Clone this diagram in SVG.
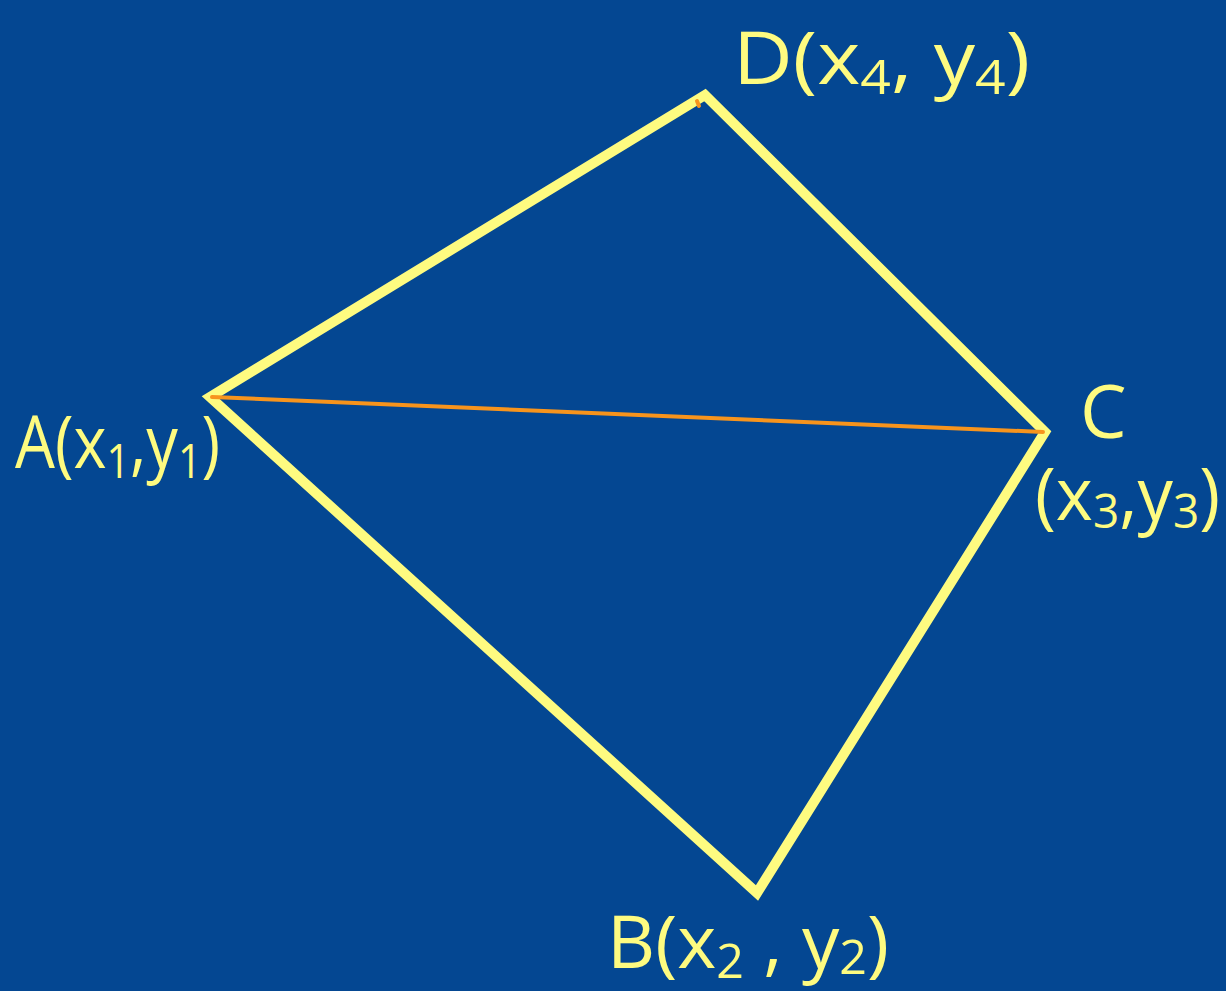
<svg xmlns="http://www.w3.org/2000/svg" width="1226" height="991" viewBox="0 0 1226 991">
<style>
.bg{fill:#044792}
.edge{stroke:#FEFB80;stroke-width:10;fill:none;stroke-linecap:round;stroke-linejoin:miter}
.diag{stroke:#F7941D;stroke-width:4;fill:none;stroke-linecap:round}
.lbl{fill:#FEFB80;font-family:"Open Sans","Liberation Sans",sans-serif;font-size:74px}
.sub{font-size:48px}
</style>
<rect class="bg" x="0" y="0" width="1226" height="991"/>
<g id="connectors">
<polygon class="edge" points="210,397 705,95 1045,432 757,893"/>
<line class="diag" x1="212" y1="397" x2="1043" y2="432"/>
<line class="diag" x1="697" y1="101" x2="699" y2="106"/>
</g>
<g id="node-D">
<text class="lbl" x="733" y="84" textLength="297" lengthAdjust="spacingAndGlyphs">D(x<tspan class="sub" dy="10">4</tspan><tspan dy="-10">, y</tspan><tspan class="sub" dy="10">4</tspan><tspan dy="-10">)</tspan></text>
</g>
<g id="node-A">
<text class="lbl" x="15" y="468" textLength="205" lengthAdjust="spacingAndGlyphs">A(x<tspan class="sub" dy="10">1</tspan><tspan dy="-10">,y</tspan><tspan class="sub" dy="10">1</tspan><tspan dy="-10">)</tspan></text>
</g>
<g id="node-C">
<text class="lbl" x="1080" y="438">C</text>
<text class="lbl" x="1035" y="520" textLength="185" lengthAdjust="spacingAndGlyphs">(x<tspan class="sub" dy="8">3</tspan><tspan dy="-8">,y</tspan><tspan class="sub" dy="8">3</tspan><tspan dy="-8">)</tspan></text>
</g>
<g id="node-B">
<text class="lbl" x="607" y="968" textLength="282" lengthAdjust="spacingAndGlyphs">B(x<tspan class="sub" dy="10">2</tspan><tspan dy="-10"> , y</tspan><tspan class="sub" dy="6">2</tspan><tspan dy="-6">)</tspan></text>
</g>
</svg>
